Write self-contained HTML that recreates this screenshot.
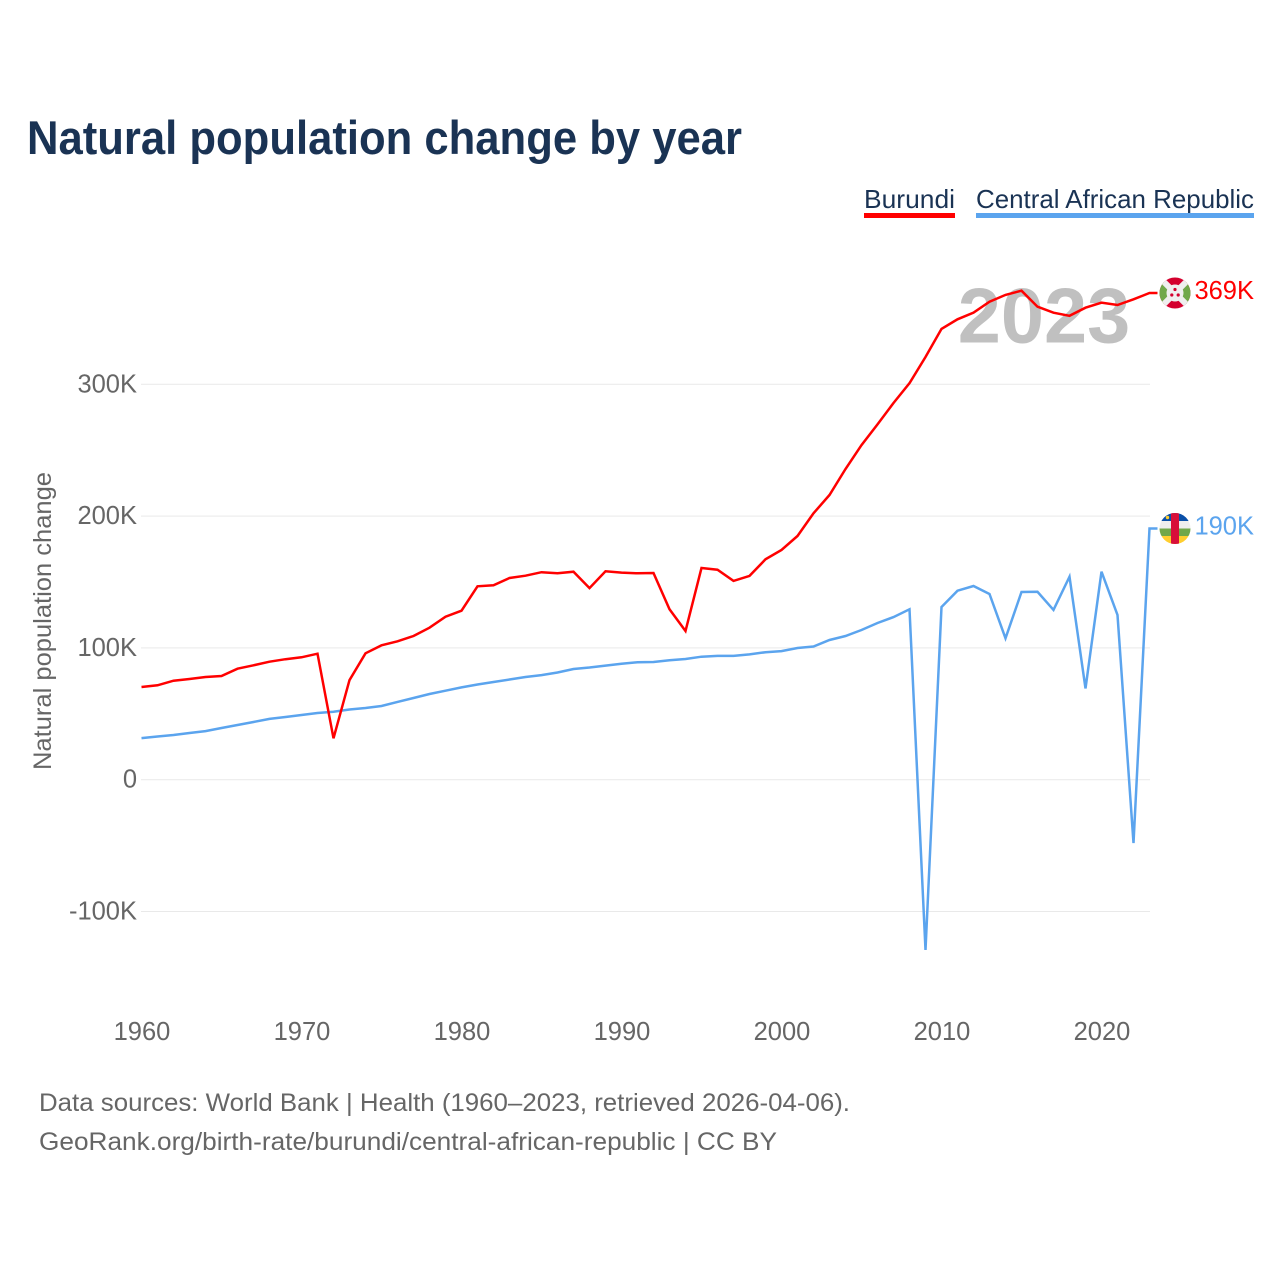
<!DOCTYPE html>
<html lang="en">
<head>
<meta charset="utf-8">
<title>Natural population change by year</title>
<style>
html,body{margin:0;padding:0;background:#fff;}
svg{display:block;font-family:"Liberation Sans",sans-serif;}
</style>
</head>
<body>
<svg id="chart" xmlns="http://www.w3.org/2000/svg" width="1280" height="1280" viewBox="0 0 1280 1280">
  <defs>
    <clipPath id="clip-bi"><circle id="clip-bi-c" cx="1175" cy="293" r="15.5"/></clipPath>
    <clipPath id="clip-cf"><circle id="clip-cf-c" cx="1175" cy="528.5" r="15.5"/></clipPath>
  </defs>
  <rect width="1280" height="1280" fill="#ffffff"/>
  <text x="27" y="154" font-size="47" font-weight="700" fill="#1a3354" textLength="715" lengthAdjust="spacingAndGlyphs">Natural population change by year</text>

  <g>
    <text x="864" y="208" font-size="26" fill="#1a3354" textLength="91" lengthAdjust="spacingAndGlyphs">Burundi</text>
    <rect x="864" y="213" width="91" height="5" fill="#ff0000"/>
  </g>
  <g>
    <text x="976" y="208" font-size="26" fill="#1a3354" textLength="278" lengthAdjust="spacingAndGlyphs">Central African Republic</text>
    <rect x="976" y="213" width="278" height="5" fill="#5ba4ee"/>
  </g>

  <g id="grid"></g>
  <text id="year-label" x="1044" y="342.5" text-anchor="middle" font-size="77.5" font-weight="700" fill="#c0c0c0">2023</text>
  <g id="y-axis"></g>
  <g id="x-axis"></g>
  <text transform="translate(51,621) rotate(-90)" text-anchor="middle" font-size="25" fill="#666666" textLength="298" lengthAdjust="spacingAndGlyphs">Natural population change</text>

  <path id="line-cf" fill="none" stroke="#5ba4ee" stroke-width="2.5" stroke-linejoin="miter"/>
  <path id="line-bi" fill="none" stroke="#ff0000" stroke-width="2.5" stroke-linejoin="miter"/>

  <g id="flag-bi">
    <g clip-path="url(#clip-bi)">
      <rect x="1159" y="277" width="32" height="32" fill="#d4002e"/>
      <polygon points="1159,277 1175,293 1159,309" fill="#70a84a"/>
      <polygon points="1191,277 1175,293 1191,309" fill="#70a84a"/>
      <line x1="1159" y1="277" x2="1191" y2="309" stroke="#efefef" stroke-width="6"/>
      <line x1="1191" y1="277" x2="1159" y2="309" stroke="#efefef" stroke-width="6"/>
      <circle cx="1175" cy="293" r="8.5" fill="#efefef"/>
      <circle cx="1175" cy="289.5" r="1.6" fill="#d4002e"/>
      <circle cx="1171.8" cy="295" r="1.6" fill="#d4002e"/>
      <circle cx="1178.2" cy="295" r="1.6" fill="#d4002e"/>
    </g>
  </g>
  <g id="flag-cf">
    <g clip-path="url(#clip-cf)">
      <rect x="1159" y="513" width="32" height="8" fill="#0a4fa8"/>
      <rect x="1159" y="521" width="32" height="7.5" fill="#eeeeee"/>
      <rect x="1159" y="528.5" width="32" height="7.5" fill="#70a84a"/>
      <rect x="1159" y="536" width="32" height="8" fill="#ffce2e"/>
      <rect x="1171" y="513" width="8" height="31" fill="#d80f3a"/>
      <circle cx="1167.5" cy="517.5" r="1.7" fill="#ffce2e"/>
    </g>
  </g>

  <text id="label-bi" x="1254" y="299" text-anchor="end" font-size="25.5" fill="#ff0000"></text>
  <text id="label-cf" x="1254" y="534" text-anchor="end" font-size="25.5" fill="#5ba4ee"></text>

  <text x="39" y="1111" font-size="25" fill="#666666" textLength="811" lengthAdjust="spacingAndGlyphs">Data sources: World Bank | Health (1960–2023, retrieved 2026-04-06).</text>
  <text x="39" y="1150" font-size="25" fill="#666666" textLength="738" lengthAdjust="spacingAndGlyphs">GeoRank.org/birth-rate/burundi/central-african-republic | CC BY</text>
</svg>
<script>
const firstYear = 1960;
const burundi = [70.3,71.6,75.1,76.4,77.9,78.7,84.2,86.8,89.5,91.4,92.9,95.6,31.4,75.6,95.9,102.0,105.0,109.0,115.3,123.7,128.2,146.7,147.5,153.0,154.8,157.4,156.6,157.8,145.4,158.1,157.1,156.6,156.8,129.3,112.8,160.6,159.3,150.8,154.6,167.2,174.3,184.9,202.1,216.0,235.7,253.9,269.6,285.8,300.8,320.7,342.0,349.3,354.3,362.7,367.8,371.0,358.9,354.3,352.0,358.1,361.9,360.2,364.5,369.3];
const centralAfricanRepublic = [31.6,32.8,33.9,35.4,36.9,39.2,41.5,43.8,46.1,47.6,49.1,50.6,51.6,53.3,54.4,55.9,59.0,62.0,65.0,67.5,70.0,72.2,74.1,76.0,77.9,79.4,81.3,84.0,85.1,86.6,88.0,89.1,89.3,90.6,91.6,93.3,93.9,93.9,95.1,96.7,97.6,99.9,101.1,106.0,109.0,113.6,118.9,123.4,129.3,-129.2,131.0,143.4,147.0,140.9,107.3,142.4,142.6,128.8,154.0,69.3,157.8,125.0,-48.0,190.6];
const yTicks = [-100,0,100,200,300];
const yTickLabels = ["-100K","0","100K","200K","300K"];
const xTicks = [1960,1970,1980,1990,2000,2010,2020];
const endLabelBurundi = "369K";
const endLabelCar = "190K";

const NS = "http://www.w3.org/2000/svg";
function xScale(year){ return 141.5 + (year - 1960) * 16; }
function yScale(v){ return 779.7 - v * 1.318; }
function linePath(values){
  let d = "";
  values.forEach(function(v,i){
    d += (i ? "L" : "M") + xScale(firstYear + i).toFixed(1) + " " + yScale(v).toFixed(1);
  });
  const last = values[values.length - 1];
  d += "L" + (xScale(firstYear + values.length - 1) + 8).toFixed(1) + " " + yScale(last).toFixed(1);
  return d;
}

const grid = document.getElementById("grid");
const yAxis = document.getElementById("y-axis");
yTicks.forEach(function(t,i){
  const ln = document.createElementNS(NS,"line");
  
  
  ln.setAttribute("x1", 141);
  ln.setAttribute("x2", 1150);
  ln.setAttribute("y1", yScale(t));
  ln.setAttribute("y2", yScale(t));
  ln.setAttribute("stroke", "#e9e9e9");
  ln.setAttribute("stroke-width", "1");
  grid.appendChild(ln);
  const tx = document.createElementNS(NS,"text");
  
  
  tx.setAttribute("x", 137);
  tx.setAttribute("y", yScale(t) + 8);
  tx.setAttribute("text-anchor", "end");
  tx.setAttribute("font-size", "25.5");
  tx.setAttribute("fill", "#666666");
  tx.textContent = yTickLabels[i];
  yAxis.appendChild(tx);
});

const xAxis = document.getElementById("x-axis");
xTicks.forEach(function(t){
  const tx = document.createElementNS(NS,"text");
  
  
  tx.setAttribute("x", xScale(t) + 0.5);
  tx.setAttribute("y", 1040);
  tx.setAttribute("text-anchor", "middle");
  tx.setAttribute("font-size", "25.5");
  tx.setAttribute("fill", "#666666");
  tx.textContent = String(t);
  xAxis.appendChild(tx);
});

document.getElementById("line-bi").setAttribute("d", linePath(burundi));
document.getElementById("line-cf").setAttribute("d", linePath(centralAfricanRepublic));

const lastBi = yScale(burundi[burundi.length - 1]);
const lastCf = yScale(centralAfricanRepublic[centralAfricanRepublic.length - 1]);
document.getElementById("flag-bi").setAttribute("transform", "translate(0," + (lastBi - 293).toFixed(1) + ")");
document.getElementById("flag-cf").setAttribute("transform", "translate(0," + (lastCf - 528.5).toFixed(1) + ")");
const labelBi = document.getElementById("label-bi");
labelBi.textContent = endLabelBurundi;
labelBi.setAttribute("y", (lastBi + 6).toFixed(1));
const labelCf = document.getElementById("label-cf");
labelCf.textContent = endLabelCar;
labelCf.setAttribute("y", (lastCf + 6).toFixed(1));
</script>
</body>
</html>
